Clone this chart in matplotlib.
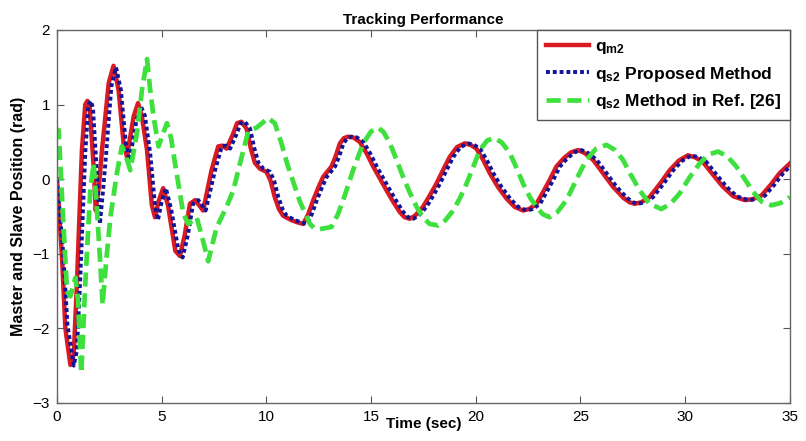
import numpy as np
import matplotlib
matplotlib.use("Agg")
import matplotlib.pyplot as plt

# --- master position q_m2 ---
t_m = [0, 0.24, 0.40, 0.64, 0.80, 0.95, 1.19, 1.35, 1.45, 1.55, 1.75, 1.85, 2.0,
       2.15, 2.47, 2.70, 2.94, 3.18, 3.34, 3.66, 3.87, 4.05, 4.3, 4.53, 4.68,
       4.85, 5.07, 5.3, 5.65, 5.87, 6.1, 6.35, 6.6, 6.98, 7.38, 7.7, 7.9, 8.1,
       8.4, 8.6, 8.8, 9.05, 9.25, 9.45, 9.69, 10.0, 10.2, 10.4, 10.6, 10.8,
       11.2, 11.5, 11.76, 12.0, 12.24, 12.5, 12.71, 13.11, 13.3, 13.51, 13.7,
       13.9, 14.15, 14.46, 14.8, 15.1, 15.4, 15.74, 16.05, 16.37, 16.6, 16.85,
       17.1, 17.48, 17.8, 18.12, 18.45, 18.76, 19.1, 19.47, 19.75, 20.03,
       20.35, 20.67, 21.05, 21.47, 21.85, 22.26, 22.55, 22.9, 23.2, 23.53,
       23.85, 24.2, 24.55, 24.88, 25.2, 25.6, 26.05, 26.55, 27.05, 27.35,
       27.59, 27.9, 28.3, 28.8, 29.26, 29.7, 30.13, 30.5, 30.85, 31.3, 31.8,
       32.3, 32.84, 33.2, 33.64, 34.1, 34.51, 35]
q_m = [0.0, -1.05, -2.0, -2.49, -2.35, -1.41, 0.39, 1.0, 1.05, 1.0, 0.17, -0.42,
       -0.1, 0.39, 1.29, 1.52, 1.2, 0.48, 0.30, 0.84, 1.02, 0.85, 0.39, -0.35,
       -0.51, -0.3, -0.12, -0.35, -0.96, -1.03, -0.75, -0.33, -0.28, -0.42,
       0.12, 0.44, 0.45, 0.41, 0.6, 0.75, 0.77, 0.68, 0.42, 0.22, 0.14, 0.1,
       -0.02, -0.24, -0.4, -0.49, -0.55, -0.58, -0.60, -0.47, -0.28, -0.1,
       0.03, 0.17, 0.3, 0.48, 0.55, 0.57, 0.56, 0.50, 0.34, 0.17, 0.02, -0.15,
       -0.3, -0.44, -0.51, -0.53, -0.49, -0.37, -0.22, -0.06, 0.13, 0.30, 0.43,
       0.48, 0.46, 0.41, 0.26, 0.08, -0.1, -0.26, -0.37, -0.42, -0.40, -0.33,
       -0.18, -0.01, 0.17, 0.28, 0.36, 0.39, 0.35, 0.26, 0.09, -0.10, -0.25,
       -0.31, -0.33, -0.31, -0.24, -0.06, 0.12, 0.25, 0.32, 0.29, 0.23, 0.07,
       -0.10, -0.23, -0.28, -0.27, -0.22, -0.07, 0.08, 0.21]

# --- slave position, proposed method ---
t_s = [0, 0.3, 0.5, 0.8, 0.95, 1.1, 1.35, 1.5, 1.62, 1.72, 1.9, 2.05, 2.2,
       2.35, 2.6, 2.82, 3.05, 3.3, 3.47, 3.8, 4.02, 4.2, 4.45, 4.68, 4.82, 5.0,
       5.2, 5.45, 5.8, 6.0, 6.25, 6.5, 6.75, 7.1, 7.55, 7.87, 8.07, 8.27,
       8.57, 8.77, 8.97, 9.22, 9.42, 9.62, 9.86, 10.17, 10.37, 10.57, 10.77,
       10.97, 11.37, 11.67, 11.93, 12.17, 12.41, 12.67, 12.88, 13.28, 13.47,
       13.68, 13.87, 14.07, 14.32, 14.63, 14.97, 15.27, 15.57, 15.91, 16.22,
       16.54, 16.77, 17.02, 17.27, 17.65, 17.97, 18.29, 18.62, 18.93, 19.27,
       19.64, 19.92, 20.2, 20.52, 20.84, 21.22, 21.64, 22.02, 22.43, 22.72,
       23.07, 23.37, 23.7, 24.02, 24.37, 24.72, 25.05, 25.37, 25.77, 26.22,
       26.72, 27.22, 27.52, 27.76, 28.07, 28.47, 28.97, 29.43, 29.87, 30.3,
       30.67, 31.02, 31.47, 31.97, 32.47, 33.01, 33.37, 33.81, 34.27, 34.68, 35]
q_s = [0.0, -1.0, -1.95, -2.5, -2.3, -1.4, 0.35, 1.0, 1.05, 0.95, 0.1, -0.6,
       -0.15, 0.35, 1.25, 1.50, 1.2, 0.45, 0.25, 0.8, 0.97, 0.85, 0.35, -0.35,
       -0.55, -0.3, -0.12, -0.4, -0.95, -1.05, -0.75, -0.33, -0.28, -0.42,
       0.12, 0.44, 0.45, 0.41, 0.6, 0.75, 0.77, 0.68, 0.42, 0.22, 0.14, 0.1,
       -0.02, -0.24, -0.4, -0.49, -0.55, -0.58, -0.60, -0.47, -0.28, -0.1,
       0.03, 0.17, 0.3, 0.48, 0.55, 0.57, 0.56, 0.50, 0.34, 0.17, 0.02, -0.15,
       -0.3, -0.44, -0.51, -0.53, -0.49, -0.37, -0.22, -0.06, 0.13, 0.30, 0.43,
       0.48, 0.46, 0.41, 0.26, 0.08, -0.1, -0.26, -0.37, -0.42, -0.40, -0.33,
       -0.18, -0.01, 0.17, 0.28, 0.36, 0.39, 0.35, 0.26, 0.09, -0.10, -0.25,
       -0.31, -0.33, -0.31, -0.24, -0.06, 0.12, 0.25, 0.32, 0.29, 0.23, 0.07,
       -0.10, -0.23, -0.28, -0.27, -0.22, -0.07, 0.08, 0.17]

# --- slave position, method in Ref. [26] ---
t_r = [0, 0.08, 0.25, 0.48, 0.64, 0.88, 1.0, 1.16, 1.35, 1.59, 1.75, 1.91,
       2.07, 2.18, 2.35, 2.55, 2.86, 3.1, 3.3, 3.5, 3.82, 4.06, 4.30, 4.45,
       4.61, 4.85, 5.05, 5.25, 5.45, 5.65, 6.03, 6.27, 6.67, 6.98, 7.22, 7.62,
       8.1, 8.42, 8.82, 9.13, 9.53, 10.09, 10.4, 10.7, 11.0, 11.3, 11.6, 12.08,
       12.3, 12.55, 13.11, 13.4, 13.67, 14.14, 14.62, 15.0, 15.34, 15.6, 15.9,
       16.2, 16.53, 16.85, 17.17, 17.5, 17.8, 18.2, 18.55, 18.92, 19.25,
       19.56, 19.9, 20.19, 20.55, 20.9, 21.25, 21.62, 21.95, 22.26, 22.6, 22.9,
       23.2, 23.53, 23.9, 24.2, 24.49, 24.9, 25.28, 25.75, 26.24, 26.65, 27.03,
       27.4, 27.83, 28.3, 28.86, 29.3, 29.74, 30.2, 30.69, 31.1, 31.57, 32.0,
       32.44, 32.85, 33.24, 33.65, 34.11, 34.55, 35]
q_r = [0.6, 0.66, -0.3, -1.5, -1.57, -1.32, -1.6, -2.6, -1.41, -0.15, 0.21,
       -0.42, -1.14, -1.68, -1.1, -0.51, 0.08, 0.44, 0.3, 0.12, 0.62, 1.2, 1.61,
       1.2, 0.84, 0.44, 0.6, 0.75, 0.55, 0.19, -0.46, -0.6, -0.51, -0.83, -1.1,
       -0.65, -0.37, -0.15, 0.30, 0.64, 0.69, 0.82, 0.75, 0.5, 0.2, -0.05,
       -0.3, -0.6, -0.66, -0.67, -0.64, -0.48, -0.28, 0.12, 0.48, 0.64, 0.69,
       0.63, 0.48, 0.27, 0.03, -0.18, -0.37, -0.52, -0.60, -0.62, -0.55, -0.42,
       -0.25, -0.06, 0.18, 0.39, 0.52, 0.55, 0.49, 0.35, 0.15, -0.06, -0.25,
       -0.37, -0.47, -0.51, -0.44, -0.33, -0.19, 0.05, 0.26, 0.41, 0.46, 0.39,
       0.26, 0.06, -0.15, -0.33, -0.40, -0.33, -0.19, 0.02, 0.21, 0.33, 0.37,
       0.31, 0.17, 0.0, -0.17, -0.3, -0.35, -0.32, -0.24]

plt.rcParams['font.family'] = ['Liberation Sans', 'DejaVu Sans']
plt.rcParams['mathtext.fontset'] = 'custom'
plt.rcParams['mathtext.rm'] = 'Liberation Sans'
plt.rcParams['mathtext.bf'] = 'Liberation Sans:bold'

fig = plt.figure(figsize=(8.06, 4.41), dpi=100)
ax = fig.add_axes([0.0707, 0.0862, 0.9093, 0.8458])

ax.plot(t_m, q_m, color='#d81b22', lw=3.2, solid_joinstyle='round',
        label=r'$\mathbf{q_{m2}}$')
ax.plot(t_s, q_s, color='#14149a', lw=2.8, dashes=(1, 0.75),
        label=r'$\mathbf{q_{s2}}$ Proposed Method')
ax.plot(t_r, q_r, color='#3ee03e', lw=3.4, dashes=(3.0, 1.4),
        dash_joinstyle='round', label=r'$\mathbf{q_{s2}}$ Method in Ref. [26]')

ax.set_xlim(0, 35)
ax.set_ylim(-3, 2)
ax.set_xticks([0, 5, 10, 15, 20, 25, 30, 35])
ax.set_yticks([-3, -2, -1, 0, 1, 2])
ax.tick_params(direction='in', top=True, right=True, labelsize=11,
               length=5, color='#555555', pad=5)
for s in ax.spines.values():
    s.set_color('#666666')
    s.set_linewidth(1.0)

ax.set_title('Tracking Performance', fontsize=11, fontweight='bold', pad=4)
ax.set_xlabel('Time (sec)', fontsize=11, fontweight='bold', labelpad=-5)
ax.set_ylabel('Master and Slave Position (rad)', fontsize=11.5,
              fontweight='bold', labelpad=5)

leg = ax.legend(loc='upper right', borderaxespad=0, fancybox=False,
                framealpha=1, edgecolor='#555555', handlelength=2.5,
                handletextpad=0.35, labelspacing=0.5, borderpad=0.5,
                prop={'weight': 'bold', 'size': 12.5})
leg.get_frame().set_linewidth(1.0)

fig.savefig('out.png', dpi=100)
